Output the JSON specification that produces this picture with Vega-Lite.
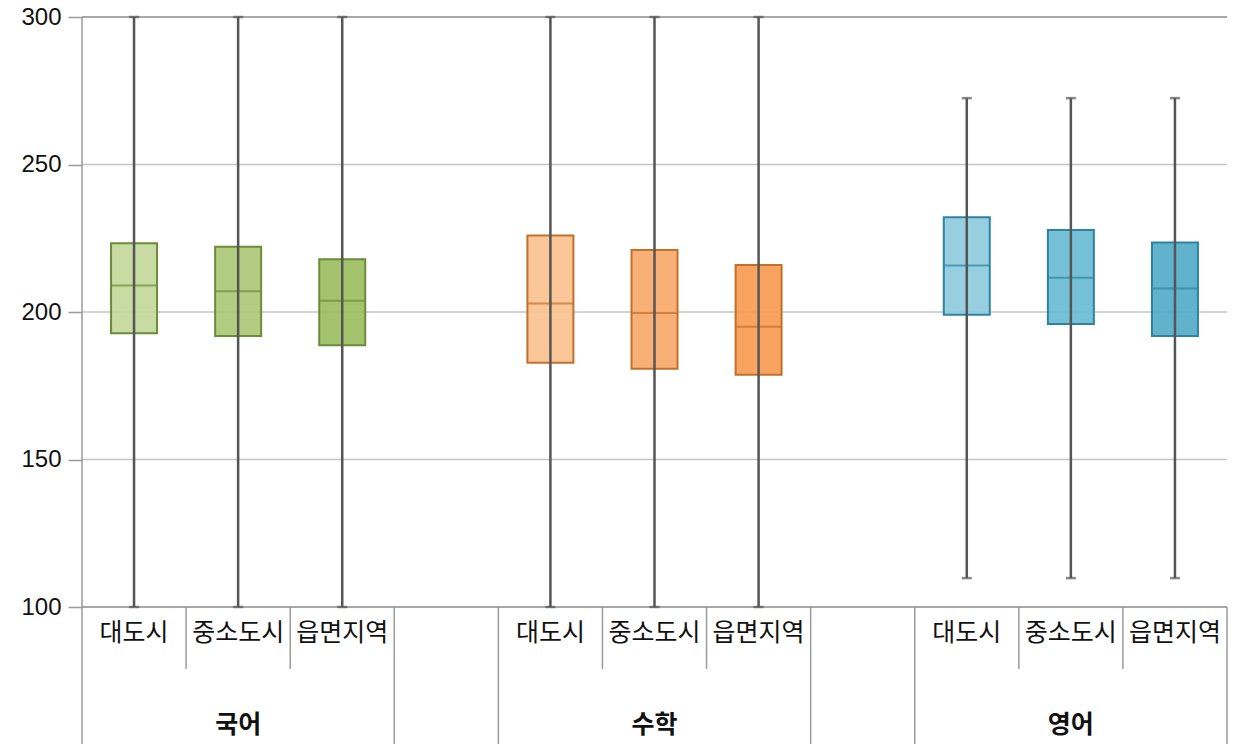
{
  "$schema": "https://vega.github.io/schema/vega-lite/v6.json",
  "width": 1145,
  "height": 590,
  "autosize": {"type": "none"},
  "padding": {"left": 82, "top": 17, "right": 13, "bottom": 137},
  "background": "white",
  "config": {"view": {"stroke": null}},
  "datasets": {
    "boxes": [
      {"slot": "국어 대도시", "group": "국어", "region": "대도시", "min": 100, "q1": 192.8, "median": 209.0, "q3": 223.3, "max": 300},
      {"slot": "국어 중소도시", "group": "국어", "region": "중소도시", "min": 100, "q1": 191.9, "median": 207.0, "q3": 222.1, "max": 300},
      {"slot": "국어 읍면지역", "group": "국어", "region": "읍면지역", "min": 100, "q1": 188.7, "median": 203.8, "q3": 217.9, "max": 300},
      {"slot": "수학 대도시", "group": "수학", "region": "대도시", "min": 100, "q1": 182.8, "median": 202.9, "q3": 225.9, "max": 300},
      {"slot": "수학 중소도시", "group": "수학", "region": "중소도시", "min": 100, "q1": 180.8, "median": 199.7, "q3": 221.0, "max": 300},
      {"slot": "수학 읍면지역", "group": "수학", "region": "읍면지역", "min": 100, "q1": 178.7, "median": 195.0, "q3": 215.9, "max": 300},
      {"slot": "영어 대도시", "group": "영어", "region": "대도시", "min": 109.8, "q1": 199.1, "median": 215.8, "q3": 232.1, "max": 272.5},
      {"slot": "영어 중소도시", "group": "영어", "region": "중소도시", "min": 109.8, "q1": 195.9, "median": 211.6, "q3": 227.8, "max": 272.5},
      {"slot": "영어 읍면지역", "group": "영어", "region": "읍면지역", "min": 109.8, "q1": 191.9, "median": 208.0, "q3": 223.6, "max": 272.5}
    ],
    "separators": [
      {"slot": "국어 대도시", "kind": "axis"},
      {"slot": "국어 중소도시", "kind": "short"},
      {"slot": "국어 읍면지역", "kind": "short"},
      {"slot": "gap1", "kind": "full"},
      {"slot": "수학 대도시", "kind": "full"},
      {"slot": "수학 중소도시", "kind": "short"},
      {"slot": "수학 읍면지역", "kind": "short"},
      {"slot": "gap2", "kind": "full"},
      {"slot": "영어 대도시", "kind": "full"},
      {"slot": "영어 중소도시", "kind": "short"},
      {"slot": "영어 읍면지역", "kind": "short"},
      {"slot": "영어 읍면지역", "kind": "end"}
    ],
    "levels": [
      {"level": 100, "edge": true}, {"level": 150, "edge": false}, {"level": 200, "edge": false}, {"level": 250, "edge": false}, {"level": 300, "edge": true}
    ]
  },
  "resolve": {"axis": {"x": "independent", "y": "independent"}},
  "layer": [
    {
      "data": {"name": "levels"},
      "transform": [{"filter": "!datum.edge"}],
      "mark": {"type": "rule", "strokeWidth": 1.5, "color": "#c4c4c4"},
      "encoding": {
        "y": {
          "field": "level", "type": "quantitative",
          "scale": {"domain": [100, 300], "nice": false, "zero": false},
          "axis": {
            "title": null, "orient": "left", "values": [100, 150, 200, 250, 300], "domain": false,
            "tickSize": 14, "tickColor": "#9a9a9a", "tickWidth": 1.5,
            "labelFont": "Liberation Sans", "labelFontSize": 24, "labelColor": "#111111", "labelPadding": 7,
            "grid": false
          }
        }
      }
    },
    {
      "data": {"name": "levels"},
      "transform": [{"filter": "datum.edge"}],
      "mark": {"type": "rule", "strokeWidth": 1.5, "color": "#8a8a8a"},
      "encoding": {
        "y": {"field": "level", "type": "quantitative", "axis": null}
      }
    },
    {
      "data": {"name": "boxes"},
      "mark": {"type": "bar", "width": 46, "strokeWidth": 2, "fillOpacity": 0.93},
      "encoding": {
        "x": {
          "field": "slot", "type": "nominal",
          "scale": {"type": "band", "paddingInner": 0, "paddingOuter": 0,
            "domain": ["국어 대도시", "국어 중소도시", "국어 읍면지역", "gap1", "수학 대도시", "수학 중소도시", "수학 읍면지역", "gap2", "영어 대도시", "영어 중소도시", "영어 읍면지역"]},
          "axis": {
            "title": null, "orient": "bottom", "domain": false, "ticks": false, "grid": false,
            "labelAngle": 0, "labelFont": "Noto Sans CJK KR", "labelFontSize": 25, "labelColor": "#111111",
            "labelPadding": 13, "labelOverlap": false, "labelBound": false,
            "labelExpr": "indexof(datum.value, 'gap') == 0 ? '' : split(datum.value, ' ')[1]"
          }
        },
        "y": {"field": "q1", "type": "quantitative", "axis": null},
        "y2": {"field": "q3"},
        "fill": {
          "field": "slot", "type": "nominal", "legend": null,
          "scale": {
            "domain": ["국어 대도시", "국어 중소도시", "국어 읍면지역", "수학 대도시", "수학 중소도시", "수학 읍면지역", "영어 대도시", "영어 중소도시", "영어 읍면지역"],
            "range": ["#c3d89c", "#acc977", "#9cbf61", "#fbc391", "#f9aa6d", "#f79c53", "#90cbde", "#6dbcd5", "#55adc9"]
          }
        },
        "stroke": {
          "field": "group", "type": "nominal", "legend": null,
          "scale": {"domain": ["국어", "수학", "영어"], "range": ["#6b8c39", "#c2702d", "#2e84a0"]}
        }
      }
    },
    {
      "data": {"name": "boxes"},
      "mark": {"type": "tick", "size": 46, "thickness": 2, "orient": "horizontal"},
      "encoding": {
        "x": {"field": "slot", "type": "nominal", "axis": null},
        "y": {"field": "median", "type": "quantitative", "axis": null},
        "color": {
          "field": "group", "type": "nominal", "legend": null,
          "scale": {"domain": ["국어", "수학", "영어"], "range": ["#6b8c39", "#c2702d", "#2e84a0"]}
        }
      }
    },
    {
      "data": {"name": "boxes"},
      "mark": {"type": "rule", "color": "#555555", "strokeWidth": 2.5},
      "encoding": {
        "x": {"field": "slot", "type": "nominal", "axis": null},
        "y": {"field": "min", "type": "quantitative", "axis": null},
        "y2": {"field": "max"}
      }
    },
    {
      "data": {"name": "boxes"},
      "mark": {"type": "tick", "size": 10, "thickness": 2.5, "orient": "horizontal", "color": "#555555"},
      "encoding": {
        "x": {"field": "slot", "type": "nominal", "axis": null},
        "y": {"field": "min", "type": "quantitative", "axis": null}
      }
    },
    {
      "data": {"name": "boxes"},
      "mark": {"type": "tick", "size": 10, "thickness": 2.5, "orient": "horizontal", "color": "#555555"},
      "encoding": {
        "x": {"field": "slot", "type": "nominal", "axis": null},
        "y": {"field": "max", "type": "quantitative", "axis": null}
      }
    },
    {
      "data": {"name": "boxes"},
      "transform": [{"filter": "datum.region == '중소도시'"}],
      "mark": {"type": "text", "font": "Noto Sans CJK KR", "fontSize": 25, "fontWeight": "bold", "color": "#111111", "baseline": "middle", "align": "center"},
      "encoding": {
        "x": {"field": "slot", "type": "nominal", "axis": null},
        "y": {"datum": 60.0, "type": "quantitative", "axis": null},
        "text": {"field": "group"}
      }
    },
    {
      "data": {"name": "separators"},
      "transform": [{"filter": "datum.kind == 'short'"}],
      "mark": {"type": "rule", "color": "#9a9a9a", "strokeWidth": 1.5},
      "encoding": {
        "x": {"field": "slot", "type": "nominal", "bandPosition": 0, "axis": null},
        "y": {"datum": 100, "type": "quantitative", "axis": null},
        "y2": {"datum": 79}
      }
    },
    {
      "data": {"name": "separators"},
      "transform": [{"filter": "datum.kind == 'full'"}],
      "mark": {"type": "rule", "color": "#9a9a9a", "strokeWidth": 1.5},
      "encoding": {
        "x": {"field": "slot", "type": "nominal", "bandPosition": 0, "axis": null},
        "y": {"datum": 100, "type": "quantitative", "axis": null},
        "y2": {"datum": 53}
      }
    },
    {
      "data": {"name": "separators"},
      "transform": [{"filter": "datum.kind == 'axis'"}],
      "mark": {"type": "rule", "color": "#9a9a9a", "strokeWidth": 1.5},
      "encoding": {
        "x": {"field": "slot", "type": "nominal", "bandPosition": 0, "axis": null},
        "y": {"datum": 300, "type": "quantitative", "axis": null},
        "y2": {"datum": 53}
      }
    },
    {
      "data": {"name": "separators"},
      "transform": [{"filter": "datum.kind == 'end'"}],
      "mark": {"type": "rule", "color": "#9a9a9a", "strokeWidth": 1.5},
      "encoding": {
        "x": {"field": "slot", "type": "nominal", "bandPosition": 1, "axis": null},
        "y": {"datum": 100, "type": "quantitative", "axis": null},
        "y2": {"datum": 53}
      }
    }
  ]
}
